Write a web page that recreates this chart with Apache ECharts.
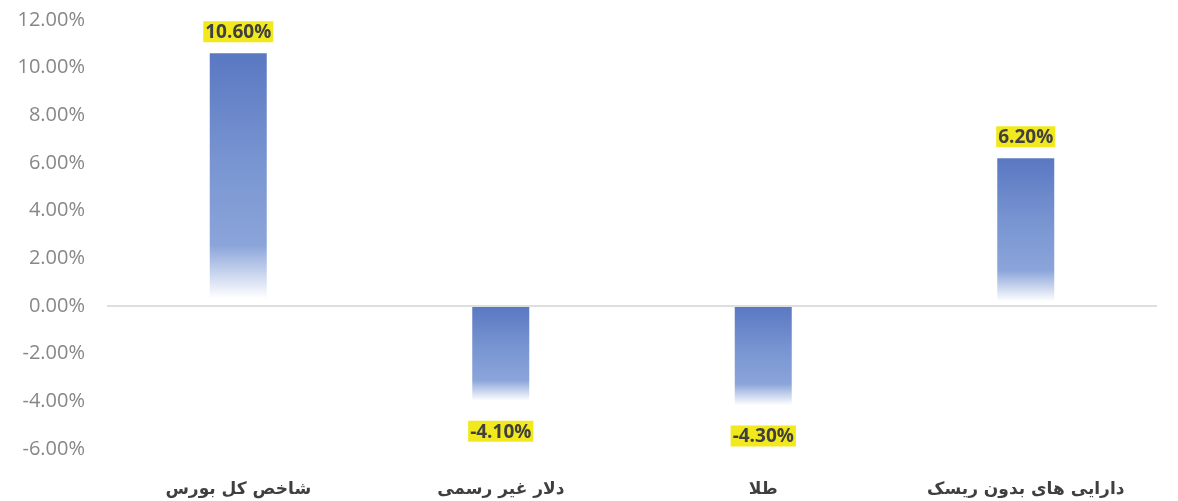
<!DOCTYPE html>
<html>
<head>
<meta charset="utf-8">
<script src="https://cdn.jsdelivr.net/npm/echarts@6/dist/echarts.min.js"></script>
<style>
  html, body { margin: 0; padding: 0; background: #fff; }
  #main { width: 1178px; height: 501px; }
</style>
</head>
<body>
<div id="main"></div>
<script>
// دسته‌ها و بازدهی (درصد)
var categories = ['شاخص کل بورس', 'دلار غیر رسمی', 'طلا', 'دارایی های بدون ریسک'];
var returns = [10.6, -4.1, -4.3, 6.2];
var yTicks = { min: -6, max: 12, step: 2 };

var myChart = echarts.init(document.getElementById('main'));

// گرادیان ستون: آبی بالا، محو شدن به سفید در پایین
var barColor = function () {
    return new echarts.graphic.LinearGradient(0, 0, 0, 1, [
        { offset: 0, color: '#5a78c2' },
        { offset: 0.45, color: '#7a96d2' },
        { offset: 0.76, color: '#8ba5da' },
        { offset: 0.97, color: '#ffffff' },
        { offset: 1, color: '#ffffff' }
    ]);
};

var seriesData = returns.map(function (v) {
    return {
        value: v,
        itemStyle: { color: barColor() },
        label: { position: v >= 0 ? 'top' : 'bottom', distance: v >= 0 ? 11 : 17 }
    };
});

option = {
    backgroundColor: '#ffffff',
    grid: {
        left: 107,
        right: 21,
        top: 20,
        bottom: 52,
        containLabel: false
    },
    xAxis: {
        type: 'category',
        data: categories,
        position: 'bottom',
        axisLine: { show: false },
        axisTick: { show: false },
        axisLabel: {
            margin: 32,
            color: '#3f3f3f',
            fontSize: 17,
            fontWeight: 'bold',
            fontFamily: 'DejaVu Sans'
        }
    },
    yAxis: {
        type: 'value',
        min: yTicks.min,
        max: yTicks.max,
        interval: yTicks.step,
        axisLine: { show: false },
        axisTick: { show: false },
        splitLine: { show: false },
        axisLabel: {
            margin: 22,
            color: '#878787',
            fontSize: 20,
            fontFamily: 'Open Sans',
            formatter: function (v) { return v.toFixed(2) + '%'; }
        }
    },
    series: [
        {
            type: 'bar',
            data: seriesData,
            barWidth: 57,
            label: {
                show: true,
                color: '#404040',
                fontSize: 19,
                fontWeight: 'bold',
                fontFamily: 'Open Sans',
                backgroundColor: '#f2e81e',
                padding: [2, 2, 0, 2],
                formatter: function (p) { return p.value.toFixed(2) + '%'; }
            },
            markLine: {
                silent: true,
                symbol: 'none',
                label: { show: false },
                lineStyle: { color: '#dedede', width: 2, type: 'solid' },
                data: [{ yAxis: 0 }]
            },
            z: 3
        }
    ]
};
myChart.setOption(option);
</script>
</body>
</html>
